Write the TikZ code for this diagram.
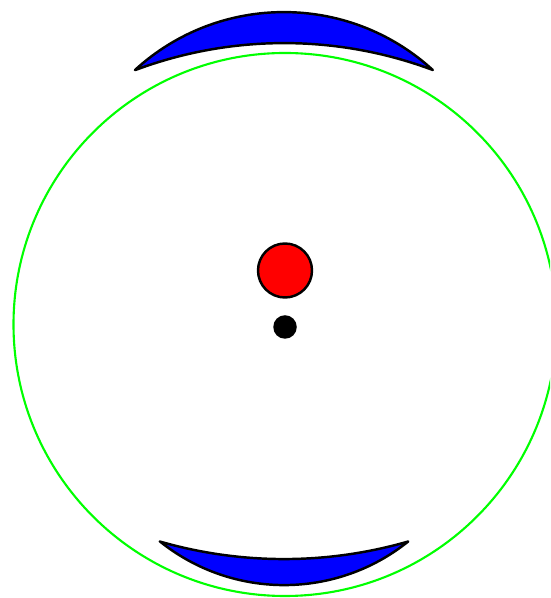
\documentclass[tikz,border=0pt]{standalone}
\begin{document}
\begin{tikzpicture}[
		lente/.style={draw=black, fill=blue, line width=0.7pt, line join=round},
		bola/.style={draw=black, line width=0.7pt},
		orbita/.style={draw=green, line width=0.6pt}]
	\useasboundingbox (0,0) rectangle (5.5,5.98);
	\clip (0,0) rectangle (5.5,5.98);
	\coordinate (c) at (2.85,2.735);
	\coordinate (sol) at (2.85,3.275);
	\coordinate (punto) at (2.85,2.71);
	\coordinate (arriba) at (1.35,5.28);
	\coordinate (abajo) at (1.60,0.565);

	\draw[orbita] (c) circle (2.715);
	% lentes
	\draw[lente] (arriba) arc[start angle=132.5, end angle=47.5, radius=2.204]
		arc[start angle=69.5, end angle=110.5, radius=4.246] -- cycle;
	\draw[lente] (abajo) arc[start angle=231.3, end angle=308.7, radius=1.985]
		arc[start angle=286.1, end angle=253.9, radius=4.48] -- cycle;

	\filldraw[bola, fill=red] (sol) circle (0.27);
	\filldraw[bola, fill=black] (punto) circle (0.105);
\end{tikzpicture}
\end{document}
